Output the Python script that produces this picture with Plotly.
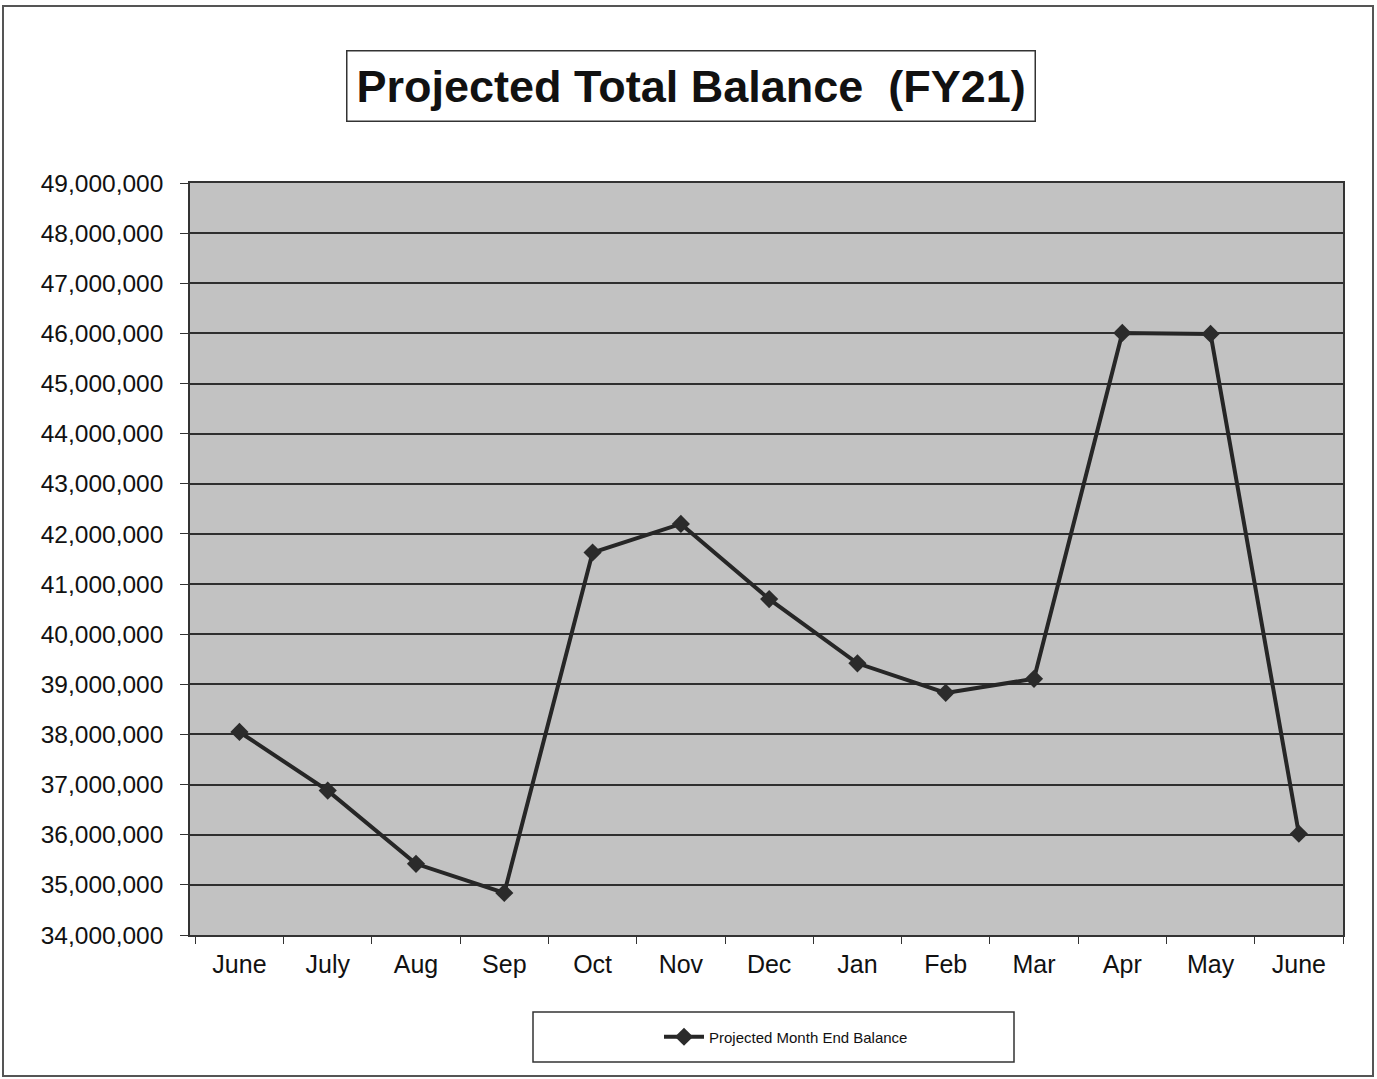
import plotly.graph_objects as go

# Month labels (fiscal year runs June to June) and projected balances
months = ["June", "July", "Aug", "Sep", "Oct", "Nov", "Dec",
          "Jan", "Feb", "Mar", "Apr", "May", "June"]
balances = [38050000, 36880000, 35420000, 34840000, 41630000, 42200000,
            40700000, 39420000, 38830000, 39110000, 46010000, 45990000,
            36020000]
y_ticks = list(range(34000000, 49000001, 1000000))

W, H = 1377, 1079
L, R, T, B = 190, 34, 183, 144
pw, ph = W - L - R, H - T - B


def px(x):
    return (x - L) / pw


def py(y):
    return 1 - (y - T) / ph


FONT = "Liberation Sans, Arial, sans-serif"
positions = list(range(len(months)))

fig = go.Figure()
fig.add_trace(go.Scatter(
    x=positions, y=balances, mode="lines+markers",
    name="Projected Month End Balance",
    line=dict(color="#262626", width=4),
    marker=dict(symbol="diamond", size=14, color="#2b2b2b"),
))

fig.update_layout(
    width=W, height=H,
    margin=dict(l=L, r=R, t=T, b=B),
    paper_bgcolor="white",
    plot_bgcolor="#c2c2c2",
    font=dict(family=FONT, color="#111111"),
    showlegend=True,
    legend=dict(x=px(786), y=py(1037), xanchor="center", yanchor="middle",
                bgcolor="rgba(0,0,0,0)", font=dict(size=15, family=FONT),
                itemwidth=40),
    xaxis=dict(
        range=[-0.56, 12.5], tickvals=positions, ticktext=months,
        ticks="", showgrid=False, zeroline=False,
        showline=True, linecolor="#333333", linewidth=1.5, mirror=True,
        tickfont=dict(size=25, family=FONT), ticklabelstandoff=6,
        minor=dict(ticks="outside", tick0=0.5, dtick=1, ticklen=7,
                   tickcolor="#333333", showgrid=False),
    ),
    yaxis=dict(
        range=[34000000, 49000000], tickvals=y_ticks, tickformat=",d",
        ticks="outside", ticklen=8, tickcolor="#333333",
        showgrid=True, gridcolor="#2e2e2e", gridwidth=1.5, zeroline=False,
        showline=True, linecolor="#333333", linewidth=1.5, mirror=True,
        tickfont=dict(size=24.5, family=FONT), ticklabelstandoff=12,
    ),
    shapes=[
        # outer frame of the chart sheet
        dict(type="rect", xref="paper", yref="paper",
             x0=px(3), x1=px(1373), y0=py(1076), y1=py(6),
             line=dict(color="#555555", width=2)),
        # legend box
        dict(type="rect", xref="paper", yref="paper",
             x0=px(533), x1=px(1014), y0=py(1062), y1=py(1012),
             line=dict(color="#333333", width=1.5)),
    ],
    annotations=[
        dict(text="<b>Projected Total Balance  (FY21)</b>",
             xref="paper", yref="paper", x=px(691), y=py(86),
             xanchor="center", yanchor="middle", showarrow=False,
             font=dict(size=45, family=FONT, color="#111111"),
             bordercolor="#333333", borderwidth=1.5, borderpad=9,
             bgcolor="white"),
    ],
)

fig.write_html("out.html")
